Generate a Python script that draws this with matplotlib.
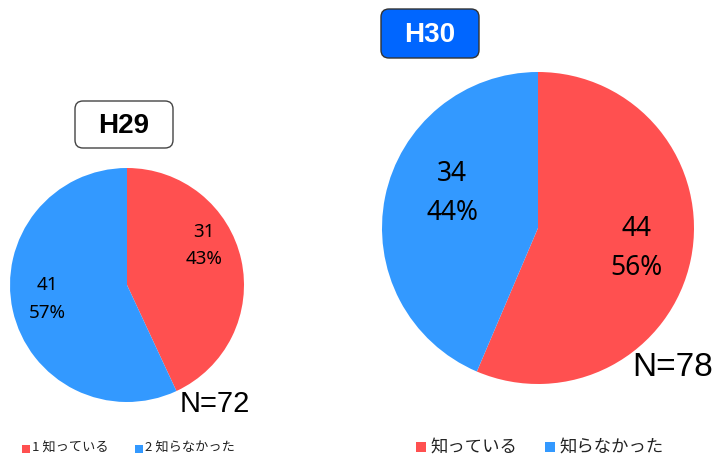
import matplotlib.pyplot as plt
from matplotlib.patches import FancyBboxPatch, Rectangle

W, H = 720, 458

# data
h29_counts = [31, 41]
h29_pcts = ['43%', '57%']
h30_counts = [44, 34]
h30_pcts = ['56%', '44%']
h29_legend = ['1 知っている', '2 知らなかった']
h30_legend = ['知っている', '知らなかった']
colors = ['#FF5050', '#3399FF']

plt.rcParams['font.family'] = ['Noto Sans CJK JP', 'DejaVu Sans']

fig = plt.figure(figsize=(W / 100, H / 100), dpi=100)


def px_axes(x0, y0, x1, y1):
    # pixel box (top-left origin) -> figure axes
    return fig.add_axes([x0 / W, 1 - y1 / H, (x1 - x0) / W, (y1 - y0) / H])


def draw_pie(ax, counts, pcts, fs, pos, ls):
    ax.pie(counts, colors=colors, startangle=90, counterclock=False,
           wedgeprops=dict(linewidth=0))
    ax.set_aspect('equal')
    ax.set_xlim(-1, 1)
    ax.set_ylim(-1, 1)
    ax.axis('off')
    for (x, y), c, p in zip(pos, counts, pcts):
        ax.text(x, y, f'{c}\n{p}', ha='center', va='center', fontsize=fs,
                family=['Noto Sans', 'DejaVu Sans'], linespacing=ls)


ax1 = px_axes(10, 168, 244, 402)
draw_pie(ax1, h29_counts, h29_pcts, 13.5, [(0.66, 0.34), (-0.68, -0.12)], 1.65)

ax2 = px_axes(382, 72, 694, 384)
draw_pie(ax2, h30_counts, h30_pcts, 19, [(0.63, -0.13), (-0.55, 0.22)], 1.5)

# N labels
fig.text(180 / W, 1 - 404 / H, 'N=72', fontsize=21, va='center', ha='left',
         family=['Liberation Sans'])
fig.text(632 / W, 1 - 368 / H, 'N=78', fontsize=24, va='center', ha='left',
         family=['Liberation Sans'])

# overlay for boxes and legends in pixel coords
ov = fig.add_axes([0, 0, 1, 1], zorder=5)
ov.set_xlim(0, W)
ov.set_ylim(H, 0)
ov.axis('off')

ov.add_patch(FancyBboxPatch((75, 101), 98, 47, boxstyle='round,pad=0,rounding_size=8',
                            facecolor='white', edgecolor='#444444', linewidth=1))
ov.text(124, 126, 'H29', ha='center', va='center', fontsize=20, fontweight='bold',
        family=['Liberation Sans'])
ov.add_patch(FancyBboxPatch((381, 9), 98, 49, boxstyle='round,pad=0,rounding_size=8',
                            facecolor='#0066FF', edgecolor='#333333', linewidth=1))
ov.text(430, 35, 'H30', ha='center', va='center', fontsize=20, fontweight='bold',
        color='white', family=['Liberation Sans'])

# legends
for x, lab, col in zip([22, 135], h29_legend, colors):
    ov.add_patch(Rectangle((x, 445), 8, 8, facecolor=col, edgecolor='none'))
    ov.text(x + 10, 448, lab, fontsize=9.5, va='center', ha='left', color='#222222')
for x, lab, col in zip([416, 545], h30_legend, colors):
    ov.add_patch(Rectangle((x, 442), 10, 10, facecolor=col, edgecolor='none'))
    ov.text(x + 14, 447, lab, fontsize=12.5, va='center', ha='left', color='#222222')

fig.savefig('out.png', dpi=100)
